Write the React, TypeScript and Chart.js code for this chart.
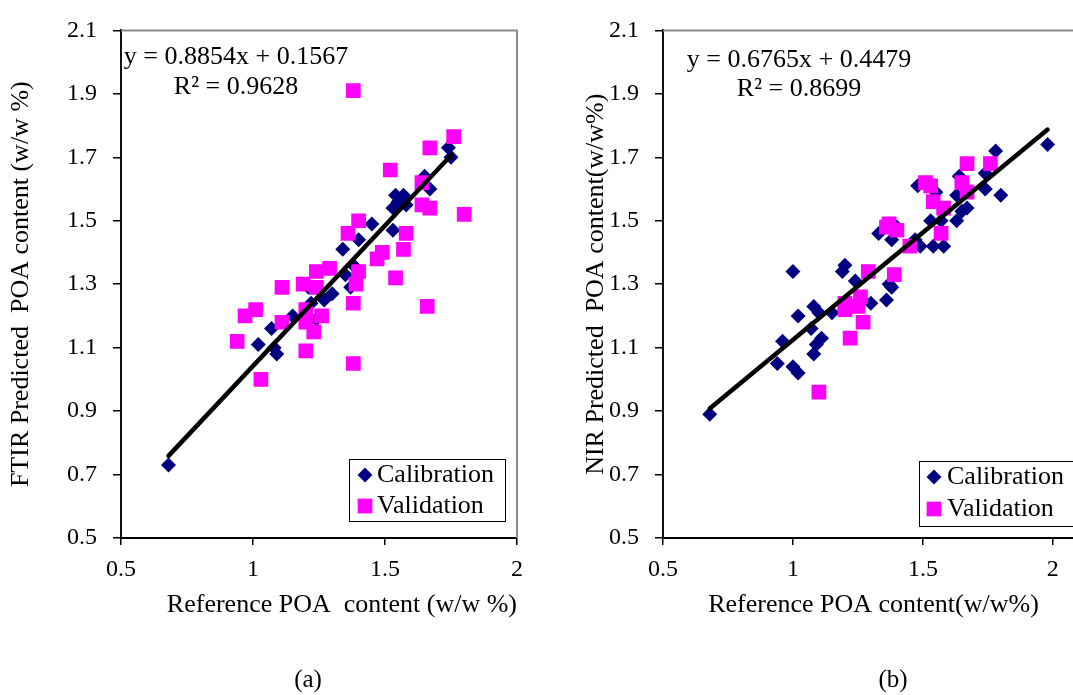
import React, { useEffect, useRef } from 'react';
import { Chart, registerables } from 'chart.js';

Chart.register(...registerables);

const FONT = "'Liberation Serif', 'Times New Roman', Times, serif";

// ---- axis ticks ----
const X_TICKS = [0.5, 1, 1.5, 2];
const Y_TICKS = [0.5, 0.7, 0.9, 1.1, 1.3, 1.5, 1.7, 1.9, 2.1];

// ---- (a) FTIR ----
const ftirCalX = [0.68, 1.02, 1.08, 1.09, 1.07, 1.15, 1.21, 1.22, 1.24, 1.27, 1.30, 1.34, 1.35, 1.37, 1.38, 1.40, 1.45, 1.53, 1.53, 1.54, 1.55, 1.57, 1.58, 1.65, 1.67, 1.74, 1.75];
const ftirCalY = [0.73, 1.11, 1.10, 1.08, 1.16, 1.20, 1.29, 1.24, 1.19, 1.25, 1.27, 1.41, 1.33, 1.29, 1.36, 1.44, 1.49, 1.47, 1.54, 1.58, 1.56, 1.58, 1.55, 1.64, 1.60, 1.73, 1.70];
const ftirValX = [1.38, 1.76, 1.67, 1.52, 1.64, 1.80, 1.64, 1.67, 1.40, 1.36, 1.58, 1.57, 1.49, 1.47, 1.40, 1.29, 1.24, 1.54, 1.39, 1.19, 1.24, 1.11, 1.38, 1.66, 1.01, 0.97, 1.20, 1.11, 1.20, 1.26, 1.23, 0.94, 1.20, 1.38, 1.03];
const ftirValY = [1.91, 1.765, 1.73, 1.66, 1.62, 1.52, 1.55, 1.54, 1.50, 1.46, 1.46, 1.41, 1.40, 1.38, 1.34, 1.35, 1.34, 1.32, 1.30, 1.30, 1.29, 1.29, 1.24, 1.23, 1.22, 1.20, 1.22, 1.18, 1.18, 1.20, 1.15, 1.12, 1.09, 1.05, 1.00];
const ftirSlope = 0.8854;
const ftirIntercept = 0.1567;
const ftirR2 = 0.9628;
const ftirFitRange = [0.68, 1.753];

// ---- (b) NIR ----
const nirCalX = [1.98, 1.78, 1.80, 1.74, 1.74, 1.64, 1.63, 1.67, 1.65, 1.63, 1.48, 1.55, 1.53, 1.57, 1.58, 1.54, 1.49, 1.33, 1.38, 1.40, 1.47, 1.00, 1.19, 1.20, 1.24, 1.37, 1.38, 1.36, 1.30, 1.08, 1.10, 1.02, 1.15, 1.07, 1.11, 1.09, 1.08, 0.96, 0.94, 1.00, 1.02, 0.68];
const nirCalY = [1.74, 1.72, 1.58, 1.65, 1.60, 1.64, 1.58, 1.54, 1.53, 1.50, 1.61, 1.59, 1.50, 1.50, 1.42, 1.42, 1.42, 1.46, 1.44, 1.48, 1.44, 1.34, 1.34, 1.36, 1.31, 1.30, 1.29, 1.25, 1.24, 1.23, 1.21, 1.20, 1.21, 1.16, 1.13, 1.11, 1.08, 1.12, 1.05, 1.04, 1.02, 0.89];
const nirValX = [1.67, 1.76, 1.65, 1.67, 1.51, 1.53, 1.54, 1.58, 1.57, 1.37, 1.36, 1.40, 1.45, 1.29, 1.39, 1.26, 1.20, 1.20, 1.25, 1.27, 1.22, 1.10];
const nirValY = [1.68, 1.68, 1.62, 1.59, 1.62, 1.61, 1.56, 1.54, 1.46, 1.49, 1.48, 1.47, 1.42, 1.34, 1.33, 1.26, 1.24, 1.22, 1.23, 1.18, 1.13, 0.96];
const nirSlope = 0.6765;
const nirIntercept = 0.4479;
const nirR2 = 0.8699;
const nirFitRange = [0.68, 1.98];

const NAVY = '#000080';
const MAGENTA = '#FF00FF';

const zip = (xs: number[], ys: number[]) => xs.map((x, i) => ({ x, y: ys[i] }));
const fitLine = (slope: number, icpt: number, range: number[]) =>
  range.map((x) => ({ x, y: slope * x + icpt }));

// ---- plugins ----
const framePlugin = {
  id: 'frame',
  beforeDatasetsDraw(chart: any) {
    const { ctx, chartArea } = chart;
    const { left, right, top, bottom } = chartArea;
    ctx.save();
    ctx.strokeStyle = '#8a8a8a';
    ctx.lineWidth = 2;
    ctx.beginPath();
    ctx.moveTo(left, top);
    ctx.lineTo(right, top);
    ctx.lineTo(right, bottom);
    ctx.stroke();
    ctx.restore();
  },
};

const equationPlugin = {
  id: 'equation',
  afterDatasetsDraw(chart: any, _a: any, opts: any) {
    const { ctx } = chart;
    ctx.save();
    ctx.fillStyle = '#000';
    ctx.font = `${opts.size}px ${FONT}`;
    ctx.textAlign = 'center';
    ctx.textBaseline = 'middle';
    opts.lines.forEach((t: string, i: number) => ctx.fillText(t, opts.x, opts.ys[i]));
    ctx.restore();
  },
};

const boxLegendPlugin = {
  id: 'boxLegend',
  afterDatasetsDraw(chart: any, _a: any, opts: any) {
    const { ctx } = chart;
    ctx.save();
    ctx.fillStyle = '#fff';
    ctx.fillRect(opts.x, opts.y, opts.w, opts.h);
    ctx.strokeStyle = '#000';
    ctx.lineWidth = 1;
    ctx.strokeRect(Math.round(opts.x) + 0.5, Math.round(opts.y) + 0.5, opts.w, opts.h);
    const items = chart.data.datasets.filter((d: any) => d.inLegend);
    ctx.font = `${opts.size}px ${FONT}`;
    ctx.textBaseline = 'middle';
    ctx.textAlign = 'left';
    items.forEach((d: any, i: number) => {
      const cy = opts.rows[i];
      const cx = opts.markerX;
      const r = d.pointRadius;
      ctx.fillStyle = d.backgroundColor;
      ctx.beginPath();
      if (d.pointStyle === 'rectRot') {
        ctx.moveTo(cx, cy - r);
        ctx.lineTo(cx + r, cy);
        ctx.lineTo(cx, cy + r);
        ctx.lineTo(cx - r, cy);
        ctx.closePath();
      } else {
        const s = r * Math.SQRT1_2;
        ctx.rect(cx - s, cy - s, 2 * s, 2 * s);
      }
      ctx.fill();
      ctx.fillStyle = '#000';
      ctx.fillText(d.label, opts.textX, cy);
    });
    ctx.restore();
  },
};

const captionPlugin = {
  id: 'caption',
  afterDraw(chart: any, _a: any, opts: any) {
    const { ctx } = chart;
    ctx.save();
    ctx.fillStyle = '#000';
    ctx.font = `${opts.size}px ${FONT}`;
    ctx.textAlign = 'center';
    ctx.textBaseline = 'middle';
    ctx.fillText(opts.text, opts.x, opts.y);
    ctx.restore();
  },
};

function makeConfig(p: any) {
  const tickFont = { family: FONT, size: 24 };
  const titleFont = { family: FONT, size: 26 };
  return {
    type: 'scatter',
    data: {
      datasets: [
        {
          label: 'trend',
          data: p.fit,
          showLine: true,
          borderColor: '#000',
          borderWidth: 4.5,
          borderCapStyle: 'round',
          pointRadius: 0,
          order: 0,
        },
        {
          label: 'Calibration',
          data: p.cal,
          pointStyle: 'rectRot',
          pointRadius: 7.5,
          backgroundColor: NAVY,
          borderWidth: 0,
          pointBorderWidth: 0,
          order: 2,
          inLegend: true,
        },
        {
          label: 'Validation',
          data: p.val,
          pointStyle: 'rect',
          pointRadius: 10.4,
          backgroundColor: MAGENTA,
          borderWidth: 0,
          pointBorderWidth: 0,
          order: 1,
          inLegend: true,
        },
      ],
    },
    options: {
      responsive: false,
      animation: false,
      devicePixelRatio: 1,
      events: [],
      layout: { padding: p.padding },
      scales: {
        x: {
          type: 'linear',
          min: 0.5,
          max: p.xMax,
          afterBuildTicks: (s: any) => {
            s.ticks = X_TICKS.map((v) => ({ value: v }));
          },
          afterFit: (s: any) => {
            s.height = p.xHeight;
          },
          ticks: {
            font: tickFont,
            color: '#000',
            padding: 10.6,
            maxRotation: 0,
            autoSkip: false,
            callback: (v: any) => String(v),
          },
          grid: { drawOnChartArea: false, drawTicks: true, tickLength: 7, color: '#000', lineWidth: 1.5 },
          border: { display: true, color: '#000', width: 2 },
          title: {
            display: true,
            text: p.xTitle,
            font: titleFont,
            color: '#000',
            align: p.xTitleAlign,
            padding: { top: 0, bottom: 4.4 },
          },
        },
        y: {
          type: 'linear',
          min: 0.5,
          max: 2.1,
          afterBuildTicks: (s: any) => {
            s.ticks = Y_TICKS.map((v) => ({ value: v }));
          },
          afterFit: (s: any) => {
            s.width = p.yWidth;
          },
          ticks: {
            font: tickFont,
            color: '#000',
            padding: 16,
            autoSkip: false,
            callback: (v: any) => String(v),
          },
          grid: { drawOnChartArea: false, drawTicks: true, tickLength: 8, color: '#000', lineWidth: 1.5 },
          border: { display: true, color: '#111', width: 2 },
          title: {
            display: true,
            text: p.yTitle,
            font: titleFont,
            color: '#000',
            padding: { top: 6, bottom: 0 },
          },
        },
      },
      plugins: {
        legend: { display: false },
        tooltip: { enabled: false },
        equation: {
          size: 26,
          x: p.eqX,
          ys: p.eqYs,
          lines: [`y = ${p.slope}x + ${p.intercept}`, `R\u00B2 = ${p.r2}`],
        },
        boxLegend: p.legend,
        caption: { text: p.caption, x: p.captionX, y: 680, size: 25 },
      },
    },
    plugins: [framePlugin, equationPlugin, boxLegendPlugin, captionPlugin],
  };
}

function ChartCanvas({ config, width, height }: { config: any; width: number; height: number }) {
  const ref = useRef<HTMLCanvasElement>(null);
  useEffect(() => {
    if (!ref.current) return;
    const chart = new Chart(ref.current, config);
    return () => chart.destroy();
  }, []);
  return <canvas ref={ref} width={width} height={height} style={{ display: 'block', width, height }} />;
}

export default function App() {
  const left = makeConfig({
    cal: zip(ftirCalX, ftirCalY),
    val: zip(ftirValX, ftirValY),
    fit: fitLine(ftirSlope, ftirIntercept, ftirFitRange),
    slope: ftirSlope,
    intercept: ftirIntercept,
    r2: ftirR2,
    xMax: 2,
    padding: { left: 0, top: 20, right: 23, bottom: 70 },
    yWidth: 121,
    xHeight: 87,
    xTitle: 'Reference POA  content (w/w %)',
    xTitleAlign: 'end',
    yTitle: 'FTIR Predicted  POA content (w/w %)',
    eqX: 236,
    eqYs: [57, 87],
    legend: { x: 349, y: 459, w: 156, h: 62, markerX: 365, textX: 377, rows: [475, 506], size: 26 },
    caption: '(a)',
    captionX: 308,
  });
  const right = makeConfig({
    cal: zip(nirCalX, nirCalY),
    val: zip(nirValX, nirValY),
    fit: fitLine(nirSlope, nirIntercept, nirFitRange),
    slope: nirSlope,
    intercept: nirIntercept,
    r2: nirR2,
    xMax: 2.12,
    padding: { left: 35, top: 20, right: 16, bottom: 70 },
    yWidth: 88,
    xHeight: 87,
    xTitle: 'Reference POA content(w/w%)',
    xTitleAlign: 'center',
    yTitle: 'NIR Predicted  POA content(w/w%)',
    eqX: 259,
    eqYs: [60, 89],
    legend: { x: 379, y: 461, w: 165, h: 65, markerX: 394, textX: 407, rows: [477, 509], size: 26 },
    caption: '(b)',
    captionX: 353,
  });
  return (
    <div style={{ position: 'absolute', left: 0, top: 0, width: 1073, height: 695, background: '#fff', overflow: 'hidden' }}>
      <div style={{ position: 'absolute', left: 0, top: 0, width: 540, height: 695 }}>
        <ChartCanvas config={left} width={540} height={695} />
      </div>
      <div style={{ position: 'absolute', left: 540, top: 0, width: 533, height: 695, overflow: 'hidden' }}>
        <ChartCanvas config={right} width={560} height={695} />
      </div>
    </div>
  );
}
